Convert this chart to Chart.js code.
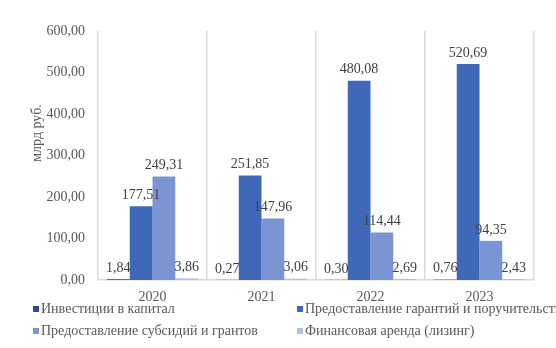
<!DOCTYPE html>
<html>
<head>
<meta charset="utf-8">
<script src="https://cdn.jsdelivr.net/npm/chart.js@4.4.0/dist/chart.umd.min.js"></script>
<style>
    html, body { margin: 0; padding: 0; background: #fff; }
    #wrap { width: 556px; height: 348px; }
</style>
</head>
<body>
<div id="wrap"><canvas id="chart" width="556" height="348"></canvas></div>
<script>
(function () {
    "use strict";

    // data
    const years = ["2020", "2021", "2022", "2023"];
    const investCapital = [1.84, 0.27, 0.30, 0.76];
    const guarantees = [177.51, 251.85, 480.08, 520.69];
    const subsidies = [249.31, 147.96, 114.44, 94.35];
    const leasing = [3.86, 3.06, 2.69, 2.43];
    const yTicks = [0, 100, 200, 300, 400, 500, 600];

    const seriesNames = [
        "Инвестиции в капитал",
        "Предоставление гарантий и поручительств",
        "Предоставление субсидий и грантов",
        "Финансовая аренда (лизинг)",
    ];
    const colors = ["#2c4f8e", "#3f69b8", "#7b95d3", "#b0bfe6"];
    const serif = "'Liberation Serif', 'Times New Roman', serif";
    const textColor = "#595959";

    const fmt = (v) => v.toFixed(2).replace(".", ",");

    // value labels above bars
    const valueLabels = {
        id: "valueLabels",
        afterDatasetsDraw(chart) {
            const ctx = chart.ctx;
            ctx.save();
            ctx.font = "14px " + serif;
            ctx.fillStyle = "#404040";
            ctx.textAlign = "center";
            ctx.textBaseline = "bottom";
            chart.data.datasets.forEach((ds, i) => {
                chart.getDatasetMeta(i).data.forEach((bar, j) => {
                    ctx.fillText(fmt(ds.data[j]), bar.x, bar.y - 4);
                });
            });
            ctx.restore();
        },
    };

    // y title + two-column legend
    const extras = {
        id: "extras",
        afterDraw(chart) {
            const ctx = chart.ctx;
            ctx.save();
            ctx.font = "14px " + serif;
            ctx.fillStyle = textColor;
            ctx.textAlign = "center";
            ctx.textBaseline = "middle";
            ctx.translate(37, 133);
            ctx.rotate(-Math.PI / 2);
            ctx.fillText("млрд руб.", 0, 0);
            ctx.restore();

            ctx.save();
            ctx.font = "14px " + serif;
            ctx.textBaseline = "middle";
            ctx.textAlign = "left";
            const cols = [33, 297];
            const rows = [309, 331];
            chart.data.datasets.forEach((ds, i) => {
                const x = cols[i % 2];
                const y = rows[Math.floor(i / 2)];
                ctx.fillStyle = ds.backgroundColor;
                ctx.fillRect(x, y - 3, 6, 6);
                ctx.fillStyle = textColor;
                ctx.fillText(ds.label, x + 8, y);
            });
            ctx.restore();
        },
    };

    const datasets = [investCapital, guarantees, subsidies, leasing].map((d, i) => ({
        label: seriesNames[i],
        data: d,
        backgroundColor: colors[i],
        borderWidth: 0,
        categoryPercentage: 0.835,
        barPercentage: 1.0,
    }));

    const ctx = document.getElementById("chart").getContext("2d");
    new Chart(ctx, {
        type: "bar",
        data: { labels: years, datasets: datasets },
        options: {
            responsive: false,
            animation: false,
            layout: { padding: { left: 0, right: 22, top: 31, bottom: 42 } },
            plugins: {
                legend: { display: false },
                tooltip: { enabled: false },
            },
            scales: {
                x: {
                    grid: {
                        display: true,
                        offset: true,
                        color: "#d9d9d9",
                        lineWidth: 1.5,
                        drawTicks: false,
                    },
                    border: { display: true, color: "#d9d9d9", width: 1.5 },
                    ticks: {
                        color: textColor,
                        font: { family: serif, size: 14 },
                        padding: 9,
                    },
                    afterFit(scale) {
                        scale.height = 26;
                    },
                },
                y: {
                    min: 0,
                    max: 600,
                    afterBuildTicks(scale) {
                        scale.ticks = yTicks.map((v) => ({ value: v }));
                    },
                    grid: { display: false, drawTicks: false },
                    border: { display: false },
                    ticks: {
                        color: textColor,
                        font: { family: serif, size: 14 },
                        padding: 13,
                        callback: (v) => fmt(v),
                    },
                    afterFit(scale) {
                        scale.width = 98;
                    },
                },
            },
        },
        plugins: [valueLabels, extras],
    });
})();
</script>
</body>
</html>
